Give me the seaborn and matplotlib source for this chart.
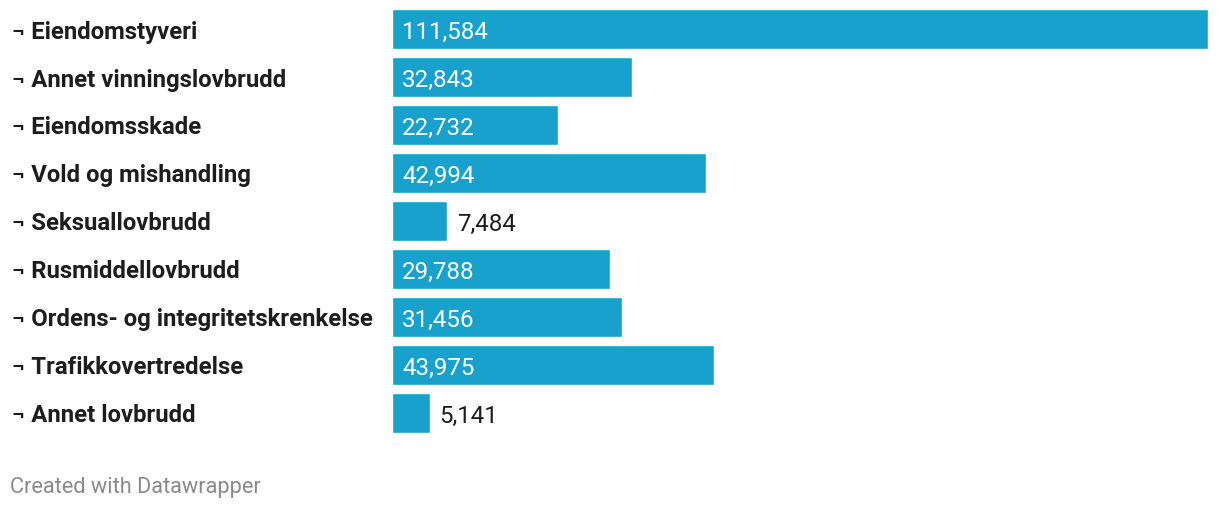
import matplotlib
matplotlib.use("Agg")
import matplotlib.pyplot as plt
import matplotlib.transforms as mtransforms
import seaborn as sns
import pandas as pd

categories = ["Eiendomstyveri", "Annet vinningslovbrudd", "Eiendomsskade",
              "Vold og mishandling", "Seksuallovbrudd", "Rusmiddellovbrudd",
              "Ordens- og integritetskrenkelse", "Trafikkovertredelse", "Annet lovbrudd"]
values = [111584, 32843, 22732, 42994, 7484, 29788, 31456, 43975, 5141]
value_labels = ["111,584", "32,843", "22,732", "42,994", "7,484", "29,788",
                "31,456", "43,975", "5,141"]

sns.set_style("white")
plt.rcParams['font.family'] = ['Roboto', 'DejaVu Sans']

df = pd.DataFrame({"cat": categories, "val": values})

fig = plt.figure(figsize=(12.2, 5.1), dpi=100)
ax = fig.add_axes([392/1220, (510-438)/510, 816/1220, 432/510])
sns.barplot(data=df, y="cat", x="val", orient="h", color="#18a1cd",
            saturation=1, width=0.833, ax=ax)
ax.set_xlim(0, max(values))
ax.set_ylim(len(categories) - 0.5, -0.5)
ax.set_xlabel("")
ax.set_ylabel("")
ax.set_xticks([])
ax.set_yticks([])
for s in ax.spines.values():
    s.set_visible(False)

trans = mtransforms.blended_transform_factory(fig.transFigure, ax.transData)
down = mtransforms.ScaledTranslation(0, -2/100, fig.dpi_scale_trans)
px = mtransforms.ScaledTranslation(10/100, -2/100, fig.dpi_scale_trans)
for i, (c, v, lab) in enumerate(zip(categories, values, value_labels)):
    fig.text(12/1220, i, "¬ " + c, transform=trans + down, ha="left", va="center",
             fontsize=17.2, fontweight="bold", color="#1d1d1d")
    if v > 15000:
        ax.text(0, i, lab, transform=ax.transData + px, ha="left", va="center",
                fontsize=17.4, color="white")
    else:
        ax.text(v, i, lab, transform=ax.transData + px, ha="left", va="center",
                fontsize=17.4, color="#1d1d1d")

fig.text(10/1220, 1 - 488/510, "Created with Datawrapper", ha="left", va="center",
         fontsize=15.7, color="#8a8a8a")

fig.savefig("out.png", dpi=100)
